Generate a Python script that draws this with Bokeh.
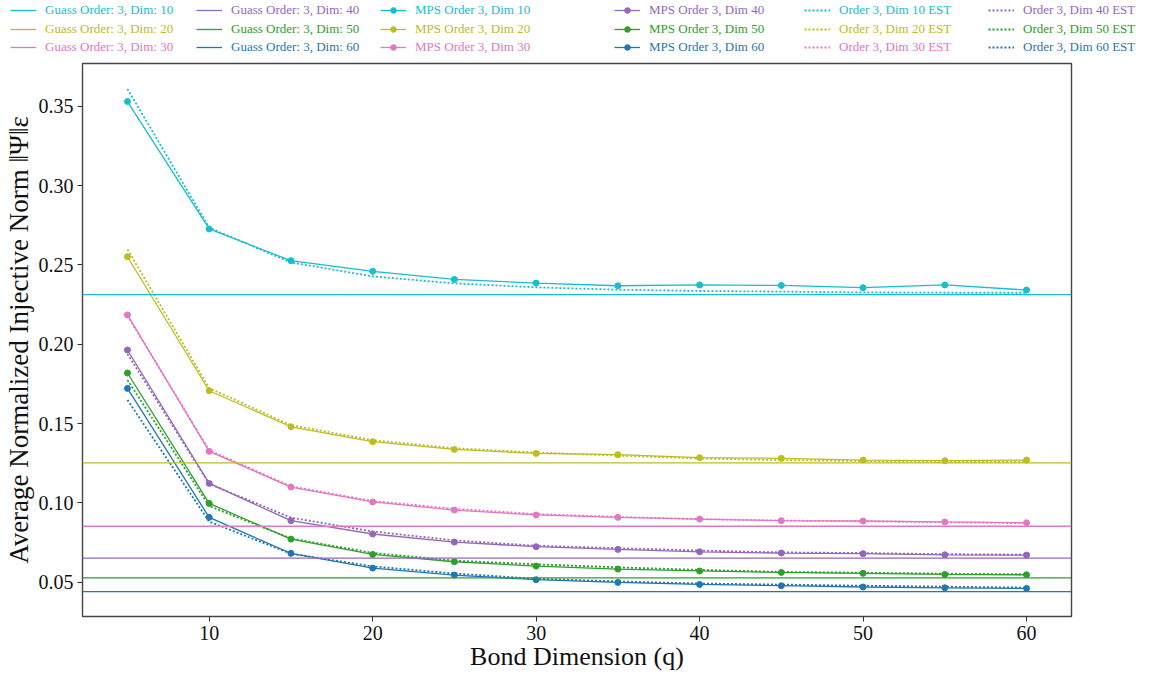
from bokeh.plotting import figure
from bokeh.layouts import column
from bokeh.models import Range1d, Span, Legend, LegendItem, FixedTicker, NumeralTickFormatter
from bokeh.embed import file_html
from bokeh.resources import INLINE

# ---------------- data ----------------
bond_dims = [5, 10, 15, 20, 25, 30, 35, 40, 45, 50, 55, 60]
phys_dims = [10, 20, 30, 40, 50, 60]

mps_10 = [0.353, 0.2727, 0.2527, 0.246, 0.2409, 0.2386, 0.2369, 0.2374, 0.2371, 0.2357, 0.2374, 0.2342]
mps_20 = [0.2552, 0.1707, 0.148, 0.1386, 0.1337, 0.1312, 0.1304, 0.1285, 0.1281, 0.1270, 0.1266, 0.1270]
mps_30 = [0.2185, 0.1325, 0.110, 0.1006, 0.0955, 0.0924, 0.0909, 0.0898, 0.0888, 0.0886, 0.0880, 0.0875]
mps_40 = [0.1964, 0.1123, 0.0888, 0.0804, 0.0753, 0.0724, 0.0707, 0.0692, 0.0684, 0.0680, 0.0673, 0.0671]
mps_50 = [0.1819, 0.0997, 0.0772, 0.0675, 0.0629, 0.0602, 0.0583, 0.0571, 0.0562, 0.0556, 0.0549, 0.0547]
mps_60 = [0.1722, 0.0909, 0.0682, 0.0589, 0.0545, 0.0516, 0.0499, 0.0486, 0.0478, 0.0470, 0.0465, 0.0461]

est_10 = [0.361, 0.2735, 0.2516, 0.2428, 0.2384, 0.2359, 0.2344, 0.2336, 0.2332, 0.2327, 0.2325, 0.2325]
est_20 = [0.2598, 0.1724, 0.149, 0.1396, 0.1345, 0.1318, 0.1298, 0.1280, 0.1270, 0.1264, 0.1260, 0.1258]
est_30 = [0.218, 0.1332, 0.1105, 0.1012, 0.0963, 0.0930, 0.0912, 0.0898, 0.0889, 0.0884, 0.0878, 0.0872]
est_40 = [0.1939, 0.1120, 0.0907, 0.0820, 0.0764, 0.0730, 0.0715, 0.0700, 0.0688, 0.0684, 0.0677, 0.0674]
est_50 = [0.1775, 0.0980, 0.0776, 0.0685, 0.0636, 0.0613, 0.0594, 0.0578, 0.0565, 0.0560, 0.0554, 0.0550]
est_60 = [0.1649, 0.0882, 0.0680, 0.0600, 0.0555, 0.0522, 0.0505, 0.0492, 0.0485, 0.0478, 0.0472, 0.0466]

gauss = [0.2313, 0.1252, 0.0853, 0.0652, 0.0527, 0.0441]

x_ticks = [10, 20, 30, 40, 50, 60]
y_ticks = [0.05, 0.10, 0.15, 0.20, 0.25, 0.30, 0.35]

colors = ["#17becf", "#bcbd22", "#e377c2", "#9467bd", "#2ca02c", "#1f77b4"]
mps_all = [mps_10, mps_20, mps_30, mps_40, mps_50, mps_60]
est_all = [est_10, est_20, est_30, est_40, est_50, est_60]

FONT = "Liberation Serif"
W = 1137
LEG_H = 54
FW, FH = 989, 553
NAN = float("nan")

# ---------------- main plot ----------------
p = figure(frame_width=FW, frame_height=FH, output_backend="svg", toolbar_location=None,
           x_range=Range1d(2.25, 62.75), y_range=Range1d(0.0284, 0.377),
           min_border_left=75, min_border_right=64, min_border_top=9, min_border_bottom=40)
p.frame_align = False
p.grid.visible = False
p.outline_line_color = "#444444"
p.outline_line_width = 1.4

for ax in (p.xaxis, p.yaxis):
    ax.axis_line_color = None
    ax.major_tick_line_color = "#333333"
    ax.major_tick_in = 0
    ax.major_tick_out = 5
    ax.minor_tick_line_color = None
    ax.major_label_text_font = FONT
    ax.major_label_text_font_size = "20px"
    ax.major_label_text_color = "#111111"
    ax.axis_label_text_font = FONT
    ax.axis_label_text_font_style = "normal"
    ax.axis_label_text_color = "#111111"

p.xaxis.axis_label_text_font_size = "26px"
p.yaxis.axis_label_text_font_size = "27px"
p.xaxis.ticker = FixedTicker(ticks=x_ticks)
p.yaxis.ticker = FixedTicker(ticks=y_ticks)
p.yaxis.formatter = NumeralTickFormatter(format="0.00")
p.xaxis.axis_label = "Bond Dimension (q)"
p.yaxis.axis_label = "Average Normalized Injective Norm \u2016\u03a8\u2016\u03b5"
p.xaxis.major_label_standoff = 4
p.xaxis.axis_label_standoff = -1
p.yaxis.major_label_standoff = 4
p.yaxis.axis_label_standoff = 2

for c, g in zip(colors, gauss):
    p.add_layout(Span(location=g, dimension="width", line_color=c, line_width=1.3))

for c, m in zip(colors, mps_all):
    p.line(bond_dims, m, line_color=c, line_width=1.3)
    p.scatter(bond_dims, m, size=6, fill_color=c, line_color=c)

for c, e in zip(colors, est_all):
    p.line(bond_dims, e, line_color=c, line_width=1.8, line_dash="2 2")

# ---------------- legend strip (3 rows x 6 columns) ----------------
lf = figure(width=W, height=LEG_H, output_backend="svg", toolbar_location=None,
            x_range=Range1d(0, 1), y_range=Range1d(0, 1),
            x_axis_location=None, y_axis_location=None, min_border=0)
lf.frame_align = False
lf.grid.visible = False
lf.outline_line_color = None

# legend-only renderers (no visible data; they just provide the legend handles)
gauss_r, mps_r, est_r = [], [], []
for c in colors:
    gauss_r.append([lf.line(x=[NAN], y=[NAN], line_color=c, line_width=1.3)])
    mps_r.append([lf.line(x=[NAN], y=[NAN], line_color=c, line_width=1.3),
                  lf.scatter(x=[NAN], y=[NAN], size=6, fill_color=c, line_color=c)])
    est_r.append([lf.line(x=[NAN], y=[NAN], line_color=c, line_width=1.8, line_dash="2 2")])

row_y = [11, 30, 48]                       # row centres (px from top)
col_x = [10, 196, 380, 614, 804, 988]      # handle starts (px from left)

entries = []
for i, d in enumerate(phys_dims):
    entries.append((gauss_r[i], f"Guass Order: 3, Dim: {d}", colors[i]))
for i, d in enumerate(phys_dims):
    entries.append((mps_r[i], f"MPS Order 3, Dim {d}", colors[i]))
for i, d in enumerate(phys_dims):
    entries.append((est_r[i], f"Order 3, Dim {d} EST", colors[i]))

for k, (rends, label, c) in enumerate(entries):
    col, row = k // 3, k % 3
    leg = Legend(items=[LegendItem(label=label, renderers=rends)],
                 location=(col_x[col], LEG_H - (row_y[row] + 7)),
                 padding=0, margin=0, spacing=0, border_line_color=None,
                 background_fill_alpha=0, glyph_width=26, glyph_height=14,
                 label_height=14, label_standoff=9,
                 label_text_font=FONT, label_text_font_size="13px",
                 label_text_color=c)
    lf.add_layout(leg, "center")

layout = column(lf, p, spacing=0)
open("out.html", "w").write(file_html(layout, INLINE))
